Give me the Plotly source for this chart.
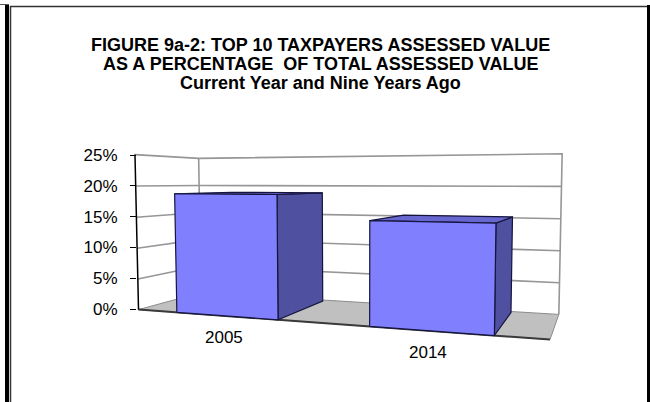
import numpy as np
import plotly.graph_objects as go

# ---- data -------------------------------------------------------------
years = ["2005", "2014"]
share_pct = [18.8, 15.2]
tick_pct = [0, 5, 10, 15, 20, 25]
tick_labels = ["0%", "5%", "10%", "15%", "20%", "25%"]
title_lines = [
    "FIGURE 9a-2: TOP 10 TAXPAYERS ASSESSED VALUE",
    "AS A PERCENTAGE  OF TOTAL ASSESSED VALUE",
    "Current Year and Nine Years Ago",
]

# ---- page / axis geometry ----------------------------------------------
W, H = 650, 402
VMAX = 25.0                # top of the walls, in percent
ZERO_PX = 309.0            # screen row of 0% on the front-left edge
PX_PER_PCT = 154.0 / 25.0  # screen pixels per percentage point on that edge
AXIS_X = 136.0             # screen column of the value-axis ticks

# Screen anchors of the 3-D plot box, (category pos, value %, depth) -> pixel.
# Category positions run 0..2 (one unit per year), depth 0 = front, 1 = back.
BOX_ANCHORS = [
    ((0, 0, 0), (139, 309)),
    ((0, 5, 0), (139, 278)),
    ((0, 20, 0), (135, 186)),
    ((0, 25, 0), (134, 155)),
    ((0, 0, 1), (200, 294)),
    ((0, 5, 1), (200, 266)),
    ((0, 25, 1), (200, 158)),
    ((2, 25, 1), (562, 154)),
    ((2, 0, 1), (559, 313)),
    ((2, 0, 0), (550, 341)),
]

BAR_W = 0.55   # bar width as a share of one category
BAR_D = 0.95   # bar depth as a share of the floor depth

FRONT = "#8080FF"
SIDE = "#5050A0"
TOP = "#6767CF"
OUTLINE = "#14143C"
FLOOR = "#C0C0C0"
GRID = "#969696"
FONT = "Liberation Sans, Arial, sans-serif"


def fit_camera(anchors):
    """Direct linear transform: a 3x4 perspective camera from the anchors."""
    rows = []
    for (X, V, Z), (u, v) in anchors:
        p = np.array([X, V / VMAX, Z, 1.0])
        un, vn = (u - 325.0) / 300.0, (v - 250.0) / 300.0
        rows.append(np.concatenate([p, np.zeros(4), -un * p]))
        rows.append(np.concatenate([np.zeros(4), p, -vn * p]))
    _, _, vt = np.linalg.svd(np.array(rows))
    return vt[-1].reshape(3, 4)


CAM = fit_camera(BOX_ANCHORS)


def proj(X, V, Z):
    """World point -> (x in screen px, y in percent units of the value axis)."""
    h = CAM @ np.array([X, V / VMAX, Z, 1.0])
    u = h[0] / h[2] * 300.0 + 325.0
    v = h[1] / h[2] * 300.0 + 250.0
    return u, (ZERO_PX - v) / PX_PER_PCT


def pct_of_row(py):
    """Screen row -> value-axis units."""
    return (ZERO_PX - py) / PX_PER_PCT


fig = go.Figure()


def face(pts, fill, line_color, line_width=1.2):
    xy = [proj(*p) for p in pts]
    xs = [a for a, _ in xy] + [xy[0][0]]
    ys = [b for _, b in xy] + [xy[0][1]]
    fig.add_trace(go.Scatter(
        x=xs, y=ys, mode="lines", fill="toself", fillcolor=fill,
        line=dict(color=line_color, width=line_width),
        hoverinfo="skip", showlegend=False))


def polyline(pts, color, width, dash="solid"):
    xy = [proj(*p) for p in pts]
    fig.add_trace(go.Scatter(
        x=[a for a, _ in xy], y=[b for _, b in xy], mode="lines",
        line=dict(color=color, width=width, dash=dash),
        hoverinfo="skip", showlegend=False))


n_cat = len(years)

# floor
face([(0, 0, 0), (n_cat, 0, 0), (n_cat, 0, 1), (0, 0, 1)], FLOOR, "#8C8C8C", 1)
polyline([(0, 0, 0), (n_cat, 0, 0)], "#3A3A3A", 2)

# gridlines across the side wall and the back wall
for t in tick_pct[1:-1]:
    polyline([(0, t, 0), (0, t, 1), (n_cat, t, 1)], GRID, 1.6)

# wall outline
polyline([(0, VMAX, 0), (0, VMAX, 1), (n_cat, VMAX, 1), (n_cat, 0, 1)], GRID, 1.6)
polyline([(0, 0, 1), (0, VMAX, 1)], GRID, 1.6)

# value axis along the front-left edge
polyline([(0, 0, 0), (0, VMAX, 0)], "#000000", 1.5)

# columns
for i, val in enumerate(share_pct):
    x0 = i + 0.5 - BAR_W / 2
    x1 = i + 0.5 + BAR_W / 2
    z0, z1 = 0.0, BAR_D
    face([(x1, 0, z0), (x1, 0, z1), (x1, val, z1), (x1, val, z0)], SIDE, OUTLINE)
    face([(x0, val, z0), (x1, val, z0), (x1, val, z1), (x0, val, z1)], TOP, OUTLINE)
    face([(x0, 0, z0), (x1, 0, z0), (x1, val, z0), (x0, val, z0)], FRONT, OUTLINE)

# category labels under the front edge
for i, yr in enumerate(years):
    lx, ly = proj(i + 0.5, 0, 0)
    fig.add_annotation(
        x=lx - 2, y=ly - 22 / PX_PER_PCT, text=yr, showarrow=False,
        xanchor="center", yanchor="middle",
        font=dict(family=FONT, size=17, color="#000000"))

# title
for k, line in enumerate(title_lines):
    fig.add_annotation(
        x=320, y=pct_of_row(45 + 19 * k),
        text="<b>" + line + "</b>", showarrow=False,
        xanchor="center", yanchor="middle",
        font=dict(family=FONT, size=18, color="#000000"))


def px_rect(x0, y0, x1, y1, **kw):
    fig.add_shape(type="rect", xref="x", yref="y", layer="above",
                  x0=x0, x1=x1, y0=pct_of_row(y0), y1=pct_of_row(y1), **kw)


def px_line(x0, y0, x1, y1, **kw):
    fig.add_shape(type="line", xref="x", yref="y", layer="above",
                  x0=x0, x1=x1, y0=pct_of_row(y0), y1=pct_of_row(y1), **kw)


# chart frame with its drop shadow
px_rect(5, 5, 9, H, fillcolor="#000000", line=dict(width=0))
px_line(0, 4.5, 9, 4.5, line=dict(color="#555555", width=1))
px_line(10.5, 6, 10.5, H, line=dict(color="#333333", width=1.5))
px_line(10, 6.5, W, 6.5, line=dict(color="#333333", width=1.5))
px_rect(647, 5, W, H, fillcolor="#000000", line=dict(width=0))

fig.update_layout(
    width=W, height=H,
    margin=dict(l=0, r=0, t=0, b=0, pad=0, autoexpand=False),
    paper_bgcolor="#FFFFFF", plot_bgcolor="#FFFFFF",
    showlegend=False,
    xaxis=dict(range=[0, W], visible=False, domain=[0, 1], fixedrange=True,
               automargin=False),
    yaxis=dict(
        range=[pct_of_row(H), pct_of_row(0)],
        anchor="free", position=AXIS_X / W, side="left", automargin=False,
        tickvals=tick_pct, ticktext=tick_labels,
        ticks="outside", ticklen=6, tickwidth=1.2, tickcolor="#000000",
        ticklabelstandoff=9,
        showgrid=False, zeroline=False, showline=False, fixedrange=True,
        tickfont=dict(family=FONT, size=17, color="#000000")),
)

# keep the page itself from scrolling so the figure fills the window
page_css = ("document.documentElement.style.overflow='hidden';"
            "document.body.style.overflow='hidden';"
            "document.body.style.margin='0';")

fig.write_html("out.html", config={"displayModeBar": False},
               post_script=page_css)
